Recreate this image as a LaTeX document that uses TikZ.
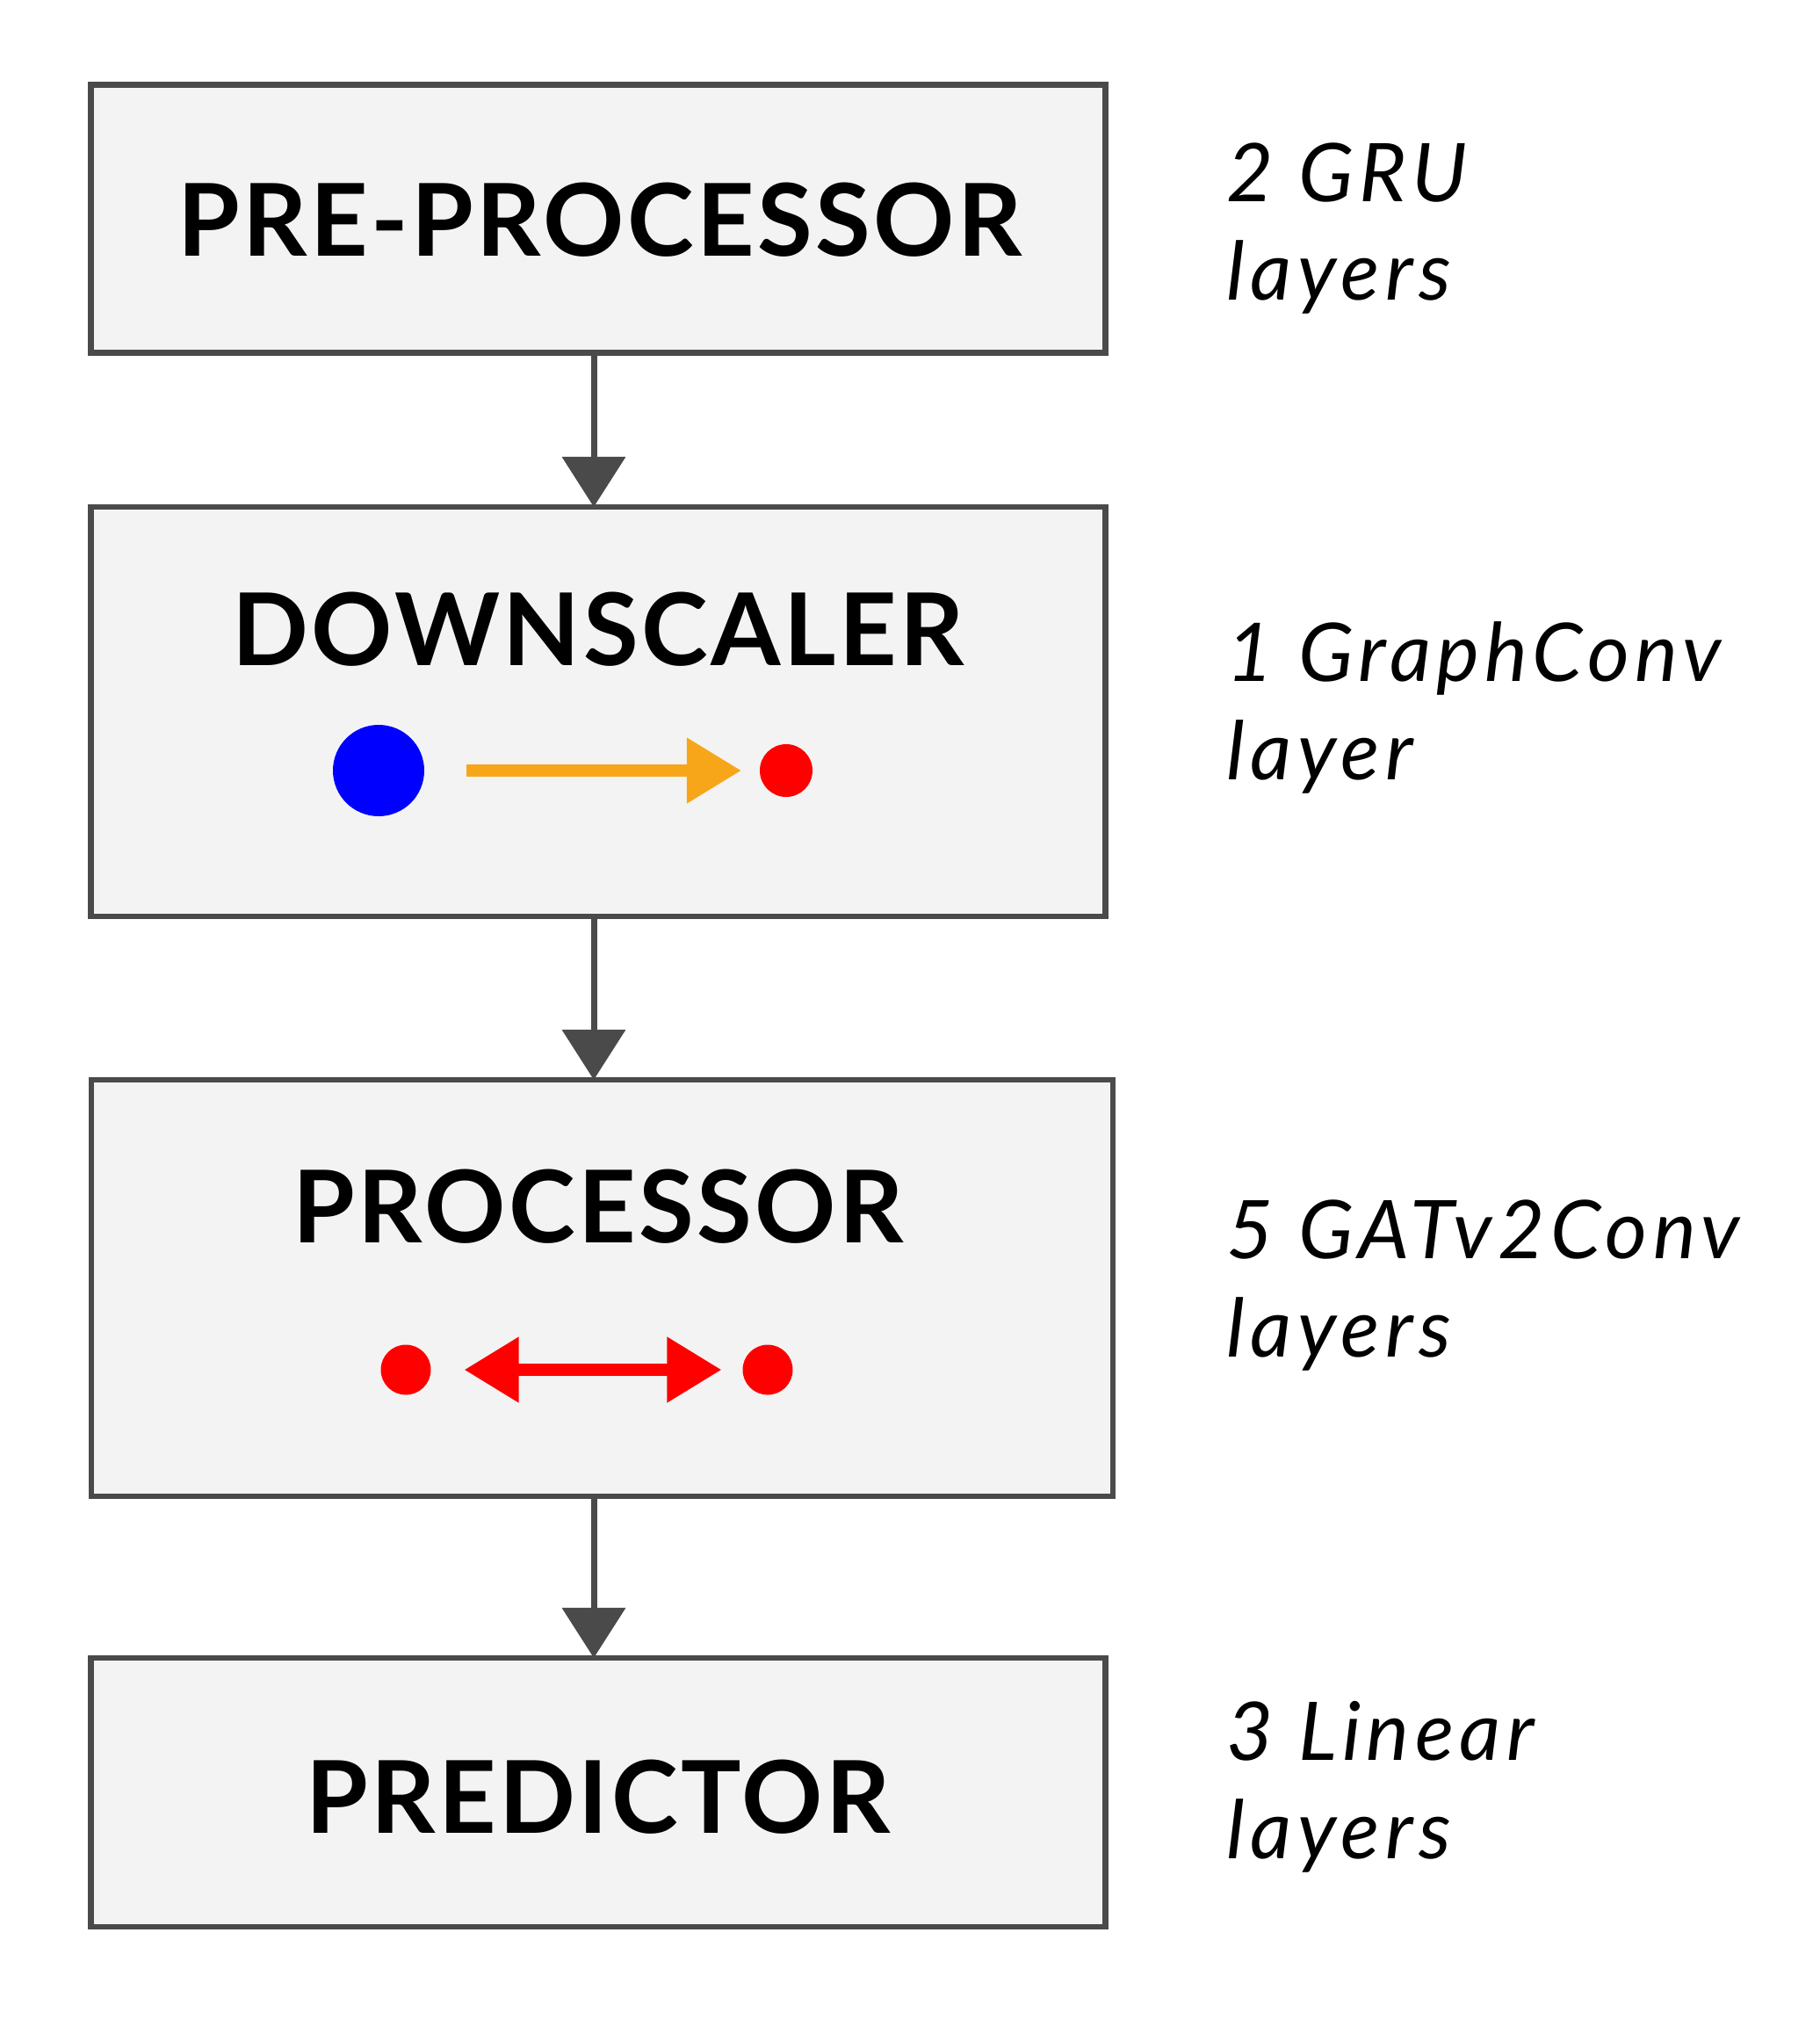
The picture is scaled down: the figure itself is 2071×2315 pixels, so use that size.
\documentclass[tikz,border=0pt]{standalone}
\usepackage{fontspec}
\setmainfont{Lato}
\usetikzlibrary{arrows.meta}

\newdimen\pxu \pxu=0.01cm
\definecolor{boxgrey}{HTML}{4A4A4A}
\definecolor{boxfill}{HTML}{F3F3F3}
\definecolor{edgeorange}{HTML}{F8A619}

\tikzset{
  block/.style={draw=boxgrey, fill=boxfill, line width=6.5\pxu, inner sep=0pt, outer sep=0pt},
  title/.style={font=\fontsize{32.5}{39}\selectfont\bfseries\addfontfeature{LetterSpace=3}, anchor=base, inner sep=0pt},
  note/.style={font=\fontsize{26.2}{31.6}\selectfont\itshape\addfontfeature{LetterSpace=7}, anchor=base west, align=left, inner sep=0pt},
  flow/.style={draw=boxgrey, line width=7\pxu, -{Triangle[length=0.57cm, width=0.71cm]}},
  blob/.style={circle, inner sep=0pt, outer sep=0pt},
  edgetip/.tip={Triangle[length=0.62cm, width=0.71cm]},
}

\begin{document}
\begin{tikzpicture}[x=0.01cm, y=-0.01cm]
\useasboundingbox[fill=white] (0,0) rectangle (2071,2315);

% stages
\node[block, minimum width=1155\pxu, minimum height=305\pxu] (pre) at (681,249) {};
\node[block, minimum width=1155\pxu, minimum height=466\pxu] (down) at (681,810) {};
\node[block, minimum width=1163\pxu, minimum height=474\pxu] (proc) at (685.5,1466) {};
\node[block, minimum width=1155\pxu, minimum height=306\pxu] (pred) at (681,2040) {};

\node[title] (pretitle) at (683,291) {PRE-PROCESSOR};
\node[title] (downtitle) at (681,757) {DOWNSCALER};
\node[title] (proctitle) at (681,1414) {PROCESSOR};
\node[title] (predtitle) at (681,2086) {PREDICTOR};

% flow between stages
\coordinate (spine) at (676,0);
\draw[flow] (pre.south -| spine) -- (down.north -| spine);
\draw[flow] (down.south -| spine) -- (proc.north -| spine);
\draw[flow] (proc.south -| spine) -- (pred.north -| spine);

% downscaling: coarse node to fine node
\node[blob, fill=blue, minimum size=104\pxu] (coarse) at (431,877) {};
\node[blob, fill=red, minimum size=60\pxu] (fine) at (895,877) {};
\draw[edgeorange, line width=14\pxu, -{edgetip}, shorten <=48\pxu, shorten >=21\pxu] (coarse) -- (fine);

% processing: fine node to fine node
\node[blob, fill=red, minimum size=57\pxu] (fineleft) at (462,1559) {};
\node[blob, fill=red, minimum size=57\pxu] (fineright) at (874,1559) {};
\draw[red, line width=14\pxu, {edgetip}-{edgetip}, shorten <=38\pxu, shorten >=24\pxu] (fineleft) -- (fineright);

% layer counts
\node[note] (prenote) at (1396,341) {2 GRU\\layers};
\node[note] (downnote) at (1396,887) {1 GraphConv\\layer};
\node[note] (procnote) at (1396,1544) {5 GATv2Conv\\layers};
\node[note] (prednote) at (1396,2115) {3 Linear\\layers};
\end{tikzpicture}
\end{document}
